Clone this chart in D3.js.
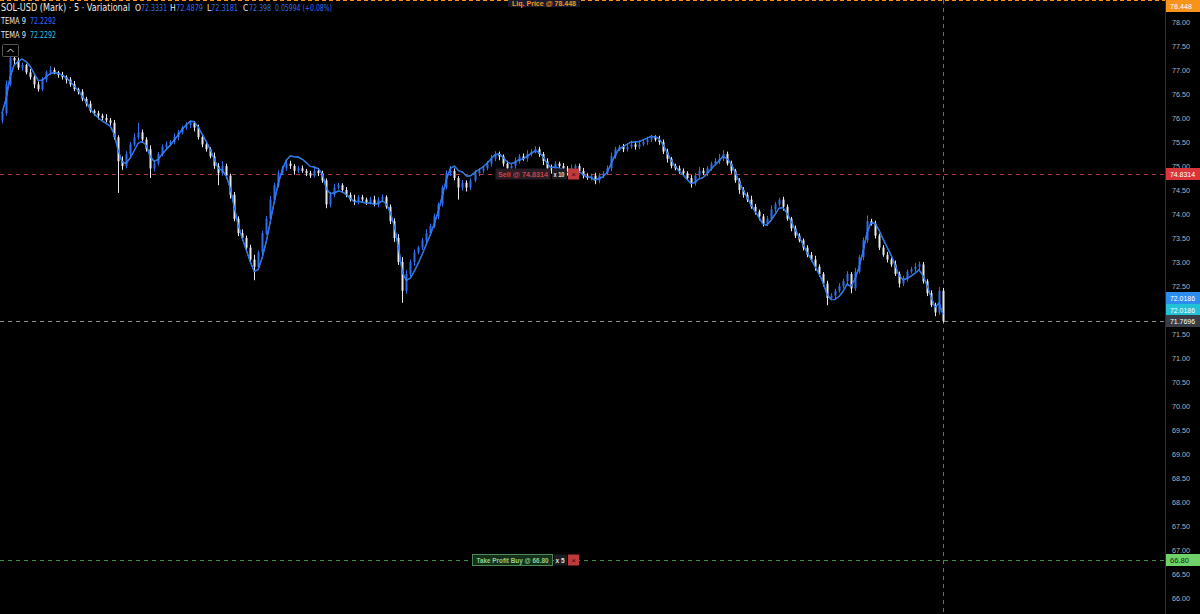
<!DOCTYPE html>
<html><head><meta charset="utf-8">
<script src="https://cdn.jsdelivr.net/npm/d3@7/dist/d3.min.js"></script>
<style>
html,body{margin:0;padding:0;background:#000;overflow:hidden}
svg{display:block}
text{font-family:"Liberation Sans",Arial,sans-serif}
text.nar{font-family:"Liberation Sans Narrow","DejaVu Sans Condensed","Liberation Sans",sans-serif}
</style></head><body>
<script>
// ---------- DATA ----------
const firstOpen = 75.95;
const closes = [
76.10,76.70,77.25,77.20,77.05,77.10,76.95,76.85,76.70,76.60,
76.80,76.95,77.00,76.95,76.90,76.85,76.80,76.70,76.60,76.55,
76.40,76.30,76.15,76.10,76.05,76.00,75.95,75.90,75.60,75.10,
75.00,75.25,75.45,75.60,75.70,75.55,75.35,74.95,75.05,75.25,
75.40,75.45,75.50,75.60,75.70,75.80,75.85,75.90,75.80,75.60,
75.45,75.35,75.20,75.00,74.85,75.00,74.80,74.40,73.90,73.60,
73.50,73.30,73.05,72.90,73.20,73.60,73.90,74.30,74.60,74.85,
74.95,75.05,75.00,74.90,74.95,74.90,74.85,74.80,74.90,74.85,
74.70,74.20,74.40,74.55,74.60,74.50,74.40,74.30,74.25,74.35,
74.30,74.25,74.30,74.20,74.30,74.35,74.15,73.85,73.50,73.00,
72.40,72.75,73.00,73.20,73.30,73.45,73.60,73.75,73.95,74.20,
74.55,74.85,74.90,74.75,74.55,74.65,74.55,74.70,74.85,74.90,
74.95,75.05,75.15,75.25,75.20,75.05,74.95,75.00,75.10,75.20,
75.15,75.25,75.30,75.35,75.25,75.10,74.95,74.90,75.05,75.00,
74.95,74.85,74.95,75.00,74.90,74.80,74.75,74.80,74.70,74.80,
74.85,74.95,75.20,75.35,75.40,75.35,75.40,75.45,75.40,75.45,
75.50,75.55,75.60,75.55,75.50,75.30,75.15,75.00,74.95,74.90,
74.85,74.75,74.65,74.80,74.90,74.85,74.95,75.05,75.10,75.15,
75.25,75.05,74.90,74.70,74.50,74.40,74.30,74.15,74.05,73.95,
73.80,73.90,74.10,74.20,74.30,74.15,73.90,73.70,73.55,73.45,
73.30,73.15,73.05,72.90,72.75,72.55,72.25,72.30,72.40,72.50,
72.60,72.75,72.45,72.80,73.10,73.45,73.85,73.80,73.55,73.30,
73.15,73.05,72.95,72.75,72.55,72.65,72.80,72.85,72.90,72.95,
72.60,72.35,72.10,71.95,72.40,71.77
];
// wick extension above max(open,close) and below min(open,close), in hundredths
const hiExt = [
5,8,10,4,6,5,3,7,4,6, 5,4,8,5,3,6,4,5,7,3, 5,4,6,3,5,4,8,5,6,4,
10,6,5,8,20,6,5,8,6,4, 5,6,4,8,5,4,6,5,4,6, 5,6,4,8,6,10,5,4,6,5,
8,5,6,10,4,5,6,8,5,6, 5,8,6,4,5,6,4,5,8,6, 5,4,6,8,5,4,6,5,10,4,
5,4,6,8,5,6,4,5,6,8, 10,8,5,6,4,5,8,5,6,4, 5,6,10,5,4,6,5,4,6,5,
4,5,8,6,5,4,6,5,8,5, 6,8,5,6,5,4,6,8,5,4, 6,5,8,4,5,6,5,4,6,5,
4,6,8,5,4,6,5,8,6,5, 4,6,5,4,8,5,6,4,5,6, 5,4,6,5,8,6,5,4,6,10,
8,5,6,4,5,6,5,8,6,4, 5,6,8,5,4,6,5,4,6,5, 4,5,6,8,5,4,6,5,4,6,
5,6,4,8,5,6,12,5,6,4, 5,6,4,8,5,6,4,5,8,6, 5,4,6,5,8,6
];
const loExt = [
6,5,4,8,5,6,4,5,8,5, 4,6,5,4,6,5,8,5,4,6, 5,6,4,5,8,5,4,6,5,66,
8,5,6,4,5,6,5,20,6,4, 5,6,4,5,6,4,5,6,8,5, 6,5,4,6,25,5,6,8,5,6,
5,8,6,28,5,6,4,5,6,5, 4,5,6,8,5,4,6,5,4,6, 5,8,6,5,4,6,5,4,6,5,
4,6,5,4,6,5,4,6,8,6, 25,6,5,8,4,5,6,5,4,6, 5,4,6,5,25,6,8,5,4,6,
5,4,6,5,8,6,5,4,6,5, 4,6,5,4,6,8,5,6,5,4, 6,5,4,8,5,6,4,5,8,6,
5,4,6,5,4,6,5,4,6,5, 4,6,5,4,6,5,8,5,4,6, 5,4,10,6,5,4,6,5,4,6,
5,4,6,5,8,6,5,4,6,8, 6,5,4,6,5,8,4,6,5,4, 6,5,4,8,5,6,15,5,6,4,
5,6,10,5,4,6,5,4,6,5, 4,6,5,4,8,5,6,4,5,6, 5,6,4,8,5,3
];
const yTicks = [78.0,77.5,77.0,76.5,76.0,75.5,75.0,74.5,74.0,73.5,73.0,72.5,71.5,71.0,70.5,70.0,69.5,69.0,68.5,68.0,67.5,67.0,66.5,66.0];
const liqPrice = 78.448, sellPrice = 74.8314, tpPrice = 66.80, lastPrice = 71.7696, temaVal = 72.0186;
const headerSym = "SOL-USD (Mark) · 5 · Variational";
const ohlcKeys = ["O","H","L","C"];
const ohlcVals = ["72.3331","72.4879","72.3181","72.398"];
const changeText = "0.05994 (+0.08%)";
const temaHeader = "72.2292";

// ---------- BUILD ----------
const W=1200,H=614, plotR=1165;
const candles = closes.map((c,i)=>{
  const o = i===0?firstOpen:closes[i-1];
  return {i,o,c,h:Math.max(o,c)+hiExt[i]/100,l:Math.min(o,c)-loExt[i]/100};
});
function ema(arr,n){const k=2/(n+1);const out=[];arr.forEach((v,i)=>out.push(i===0?v:v*k+out[i-1]*(1-k)));return out;}
const e1=ema(closes,9),e2=ema(e1,9),e3=ema(e2,9);
const tema=closes.map((_,i)=>3*e1[i]-3*e2[i]+e3[i]);

const y=d3.scaleLinear().domain([66,78]).range([598,22]);
const x=d3.scaleLinear().domain([0,closes.length-1]).range([2,943]);

const svg=d3.select("body").append("svg").attr("width",W).attr("height",H);
svg.append("rect").attr("width",W).attr("height",H).attr("fill","#000");
svg.append("defs").append("clipPath").attr("id","clip").append("rect").attr("width",plotR).attr("height",H);
const plot=svg.append("g").attr("clip-path","url(#clip)");

// crosshair vertical
plot.append("line").attr("x1",943.5).attr("x2",943.5).attr("y1",0).attr("y2",H)
  .attr("stroke","#6a6d78").attr("stroke-dasharray","4,4").attr("stroke-width",1);

// price lines
function hline(v,color,dash){plot.append("line").attr("x1",0).attr("x2",plotR).attr("y1",Math.round(y(v))+0.5).attr("y2",Math.round(y(v))+0.5)
  .attr("stroke",color).attr("stroke-dasharray",dash).attr("stroke-width",1);}
hline(liqPrice,"#f7931a","4,3");
hline(sellPrice,"#b03a3a","4,4");
hline(lastPrice,"#8a8d96","4,4");
hline(tpPrice,"#3f8f4a","4,4");

// candles
const up="#2f6df0", dn="#e6e8ee";
const cg=plot.append("g");
cg.selectAll("line.w").data(candles).join("line")
  .attr("x1",d=>Math.round(x(d.i))+0.5).attr("x2",d=>Math.round(x(d.i))+0.5)
  .attr("y1",d=>y(d.h)).attr("y2",d=>y(d.l))
  .attr("stroke",d=>d.c>=d.o?up:dn).attr("stroke-width",1);
cg.selectAll("rect").data(candles).join("rect")
  .attr("x",d=>Math.round(x(d.i))-0.5).attr("width",2)
  .attr("y",d=>y(Math.max(d.o,d.c))).attr("height",d=>Math.max(1,Math.abs(y(d.o)-y(d.c))))
  .attr("fill",d=>d.c>=d.o?up:dn);

// TEMA lines
const ln=d3.line().x((d,i)=>x(i)).y(d=>y(d));
plot.append("path").datum(tema).attr("d",ln).attr("fill","none").attr("stroke","#4fc3f7").attr("stroke-width",1.4).attr("opacity",0.8);
plot.append("path").datum(tema).attr("d",ln).attr("fill","none").attr("stroke","#2962ff").attr("stroke-width",1);

// order labels on chart
function orderLabel(v,x0,txt,txtColor,bg,border,qty,wMain,tl,qtyL){
  const yy=Math.round(y(v));
  const g=plot.append("g");
  g.append("rect").attr("x",x0+0.5).attr("y",yy-5.5).attr("width",wMain).attr("height",11).attr("fill",bg).attr("stroke",border).attr("stroke-width",border==="none"?0:1);
  g.append("text").attr("x",x0+(wMain-tl)/2+0.5).attr("y",yy+3).attr("font-size",7.5).attr("font-weight","bold").attr("fill",txtColor)
    .attr("textLength",tl).attr("lengthAdjust","spacingAndGlyphs").text(txt);
  g.append("rect").attr("x",x0+wMain+2).attr("y",yy-5.5).attr("width",567-(x0+wMain+2)).attr("height",11).attr("fill","#1c1c22");
  g.append("text").attr("x",x0+wMain+3.5).attr("y",yy+3).attr("font-size",7).attr("font-weight","bold").attr("fill","#e0e0e0")
    .attr("textLength",qtyL).attr("lengthAdjust","spacingAndGlyphs").text(qty);
  g.append("rect").attr("x",568).attr("y",yy-5.5).attr("width",11).attr("height",11).attr("fill","#c0393b");
  g.append("text").attr("x",573.5).attr("y",yy+3).attr("text-anchor","middle").attr("font-size",8).attr("fill","#3a0d0d").text("×");
}
orderLabel(sellPrice,495,"Sell @ 74.8314","#c8454a","#2a1c24","none","x 10",55,50,11);
orderLabel(tpPrice,472,"Take Profit Buy @ 66.80","#8fd08f","#14301a","#4c8a52","x 5",80,72,9);
// liq label at top
plot.append("rect").attr("x",508).attr("y",-4).attr("width",72).attr("height",11).attr("fill","#1a1a2e");
plot.append("text").attr("x",512).attr("y",6).attr("font-size",7).attr("font-weight","bold").attr("fill","#f7931a")
  .attr("textLength",64).attr("lengthAdjust","spacingAndGlyphs").text("Liq. Price @ 78.448");

// axis
svg.append("line").attr("x1",plotR+0.5).attr("x2",plotR+0.5).attr("y1",0).attr("y2",H).attr("stroke","#2a2e39");
const ax=svg.append("g").attr("transform",`translate(${plotR},0)`)
  .call(d3.axisRight(y).tickValues(yTicks).tickFormat(d3.format(".2f")).tickSize(0).tickPadding(7));
ax.select(".domain").remove();
ax.selectAll("text").attr("fill","#b2b5be").attr("font-size",8).attr("font-family","Liberation Sans, Arial, sans-serif")
  .attr("textLength",18).attr("lengthAdjust","spacingAndGlyphs");

function axLabel(yc,txt,bg,fg,tl){
  svg.append("rect").attr("x",plotR+1).attr("y",yc-6).attr("width",W-plotR-1).attr("height",12).attr("fill",bg);
  svg.append("text").attr("x",plotR+5).attr("y",yc+3).attr("font-size",8).attr("fill",fg)
    .attr("textLength",tl).attr("lengthAdjust","spacingAndGlyphs").text(txt);
}
axLabel(6,"78.448","#f7931a","#fff",22);
axLabel(Math.round(y(sellPrice)),"74.8314","#d9353a","#fff",25);
axLabel(298,temaVal.toFixed(4),"#2d8cf0","#fff",25);
axLabel(310,temaVal.toFixed(4),"#22c1d6","#fff",25);
axLabel(Math.round(y(lastPrice)),lastPrice.toFixed(4),"#3a3d46","#fff",25);
axLabel(Math.round(y(tpPrice)),tpPrice.toFixed(2),"#6fd16a","#0b2a0b",19);

// header
svg.append("text").attr("class","nar").attr("x",1).attr("y",11).attr("font-size",11).attr("fill","#e8e8e8")
  .attr("textLength",129).attr("lengthAdjust","spacingAndGlyphs").text(headerSym);
const keyX=[135,170,207,243], valX=[141,176,211,249], valL=[26,27,27,22];
ohlcKeys.forEach((k,i)=>{
  svg.append("text").attr("class","nar").attr("x",keyX[i]).attr("y",11).attr("font-size",8.5).attr("fill","#e8e8e8").text(k);
  svg.append("text").attr("class","nar").attr("x",valX[i]).attr("y",11).attr("font-size",8.5).attr("fill","#2f6df0")
    .attr("textLength",valL[i]).attr("lengthAdjust","spacingAndGlyphs").text(ohlcVals[i]);
});
svg.append("text").attr("class","nar").attr("x",275).attr("y",11).attr("font-size",8.5).attr("fill","#2f6df0")
  .attr("textLength",57).attr("lengthAdjust","spacingAndGlyphs").text(changeText);
[[24,"#2f6df0"],[38,"#26c6da"]].forEach(([yy,c])=>{
  svg.append("text").attr("class","nar").attr("x",1).attr("y",yy).attr("font-size",8.5).attr("fill","#e8e8e8")
    .attr("textLength",25).attr("lengthAdjust","spacingAndGlyphs").text("TEMA 9");
  svg.append("text").attr("class","nar").attr("x",30).attr("y",yy).attr("font-size",8.5).attr("fill",c)
    .attr("textLength",26).attr("lengthAdjust","spacingAndGlyphs").text(temaHeader);
});
// collapse button
svg.append("rect").attr("x",2.5).attr("y",44.5).attr("width",16).attr("height",12).attr("fill","#000").attr("stroke","#555").attr("rx",1);
svg.append("path").attr("d","M7.5,52 L10.5,49 L13.5,52").attr("fill","none").attr("stroke","#ddd").attr("stroke-width",1);
</script>
</body></html>
